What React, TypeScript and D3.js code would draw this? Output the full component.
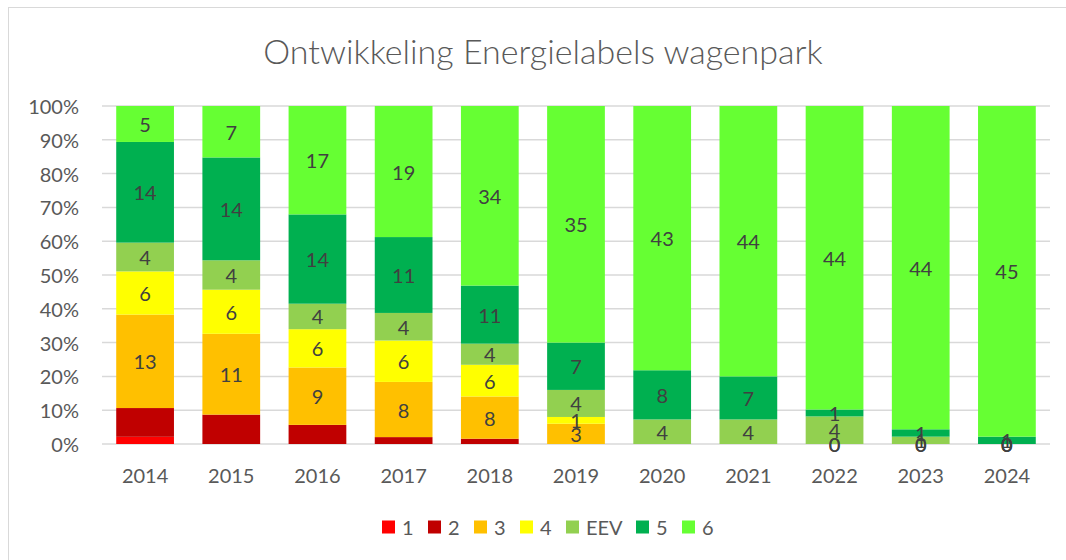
import React from "react";
import * as d3 from "d3";

const years = ["2014","2015","2016","2017","2018","2019","2020","2021","2022","2023","2024"];
const seriesNames = ["1","2","3","4","EEV","5","6"];
const seriesColors = ["#FF0000","#C00000","#FFC000","#FFFF00","#92D050","#00B050","#66FF33"];
const showLabels = [false,false,true,true,true,true,true];
const s1 = [1,0,0,0,0,0,0,0,0,0,0];
const s2 = [4,4,3,1,1,0,0,0,0,0,0];
const s3 = [13,11,9,8,8,3,null,null,0,0,0];
const s4 = [6,6,6,6,6,1,null,null,0,0,0];
const sEEV = [4,4,4,4,4,4,4,4,4,1,0];
const s5 = [14,14,14,11,11,7,8,7,1,1,1];
const s6 = [5,7,17,19,34,35,43,44,44,44,45];
const yTicks = [0,0.1,0.2,0.3,0.4,0.5,0.6,0.7,0.8,0.9,1];
const title = "Ontwikkeling Energielabels wagenpark";

const allSeries: (number|null)[][] = [s1,s2,s3,s4,sEEV,s5,s6];

const W = 1066, H = 560;
const FONT = "Lato, 'Open Sans', sans-serif";

export default function App() {
  const x = d3.scaleBand<string>().domain(years).range([102, 1050]).paddingInner(0.33).paddingOuter(0.165);
  const y = d3.scaleLinear().domain([0, 1]).range([444, 106]);

  const rows = years.map((yr, i) => {
    const r: any = { year: yr };
    seriesNames.forEach((n, j) => { r[n] = allSeries[j][i] ?? 0; });
    return r;
  });
  const stack = d3.stack<any>().keys(seriesNames).offset(d3.stackOffsetExpand);
  const stacked = stack(rows);

  // legend layout
  const charW = (t: string) => t === "EEV" ? 34 : 10 * t.length;
  const items = seriesNames.map(n => 20 + charW(n) + 16);
  const totalLegend = items.reduce((a, b) => a + b, 0) - 16;
  let lx = 545 - totalLegend / 2 + 2;
  const legendX: number[] = [];
  items.forEach(w => { legendX.push(lx); lx += w; });

  return (
    <svg width={W} height={H} style={{ position: "absolute", left: 0, top: 0, background: "#fff" }} fontFamily={FONT}>
      <rect x={8.5} y={7.5} width={W} height={H} fill="#fff" stroke="#d9d9d9" strokeWidth={1} />
      <text x={543} y={50} textAnchor="middle" dominantBaseline="central" fontSize={34} fontWeight={300} fill="#595959">{title}</text>
      {yTicks.map(t => (
        <g key={t}>
          <line x1={102} x2={1050} y1={y(t)} y2={y(t)} stroke="#d9d9d9" strokeWidth={1.5} />
          <text x={79} y={y(t)} textAnchor="end" dominantBaseline="central" fontSize={20} fill="#595959">{d3.format(".0%")(t)}</text>
        </g>
      ))}
      {stacked.map((layer, j) => (
        <g key={layer.key} fill={seriesColors[j]}>
          {layer.map((d, i) => (
            <rect key={i} x={x(years[i])} width={x.bandwidth()} y={y(d[1])} height={Math.max(0, y(d[0]) - y(d[1]))} />
          ))}
        </g>
      ))}
      {stacked.map((layer, j) => showLabels[j] ? (
        <g key={"l" + layer.key}>
          {layer.map((d, i) => {
            const v = allSeries[j][i];
            if (v === null || v === undefined) return null;
            return (
              <text key={i} x={x(years[i])! + x.bandwidth() / 2} y={y((d[0] + d[1]) / 2)} textAnchor="middle" dominantBaseline="central" fontSize={20} fill="#404040">{v}</text>
            );
          })}
        </g>
      ) : null)}
      {years.map(yr => (
        <text key={yr} x={x(yr)! + x.bandwidth() / 2} y={475} textAnchor="middle" dominantBaseline="central" fontSize={20} fill="#595959">{yr}</text>
      ))}
      {seriesNames.map((n, j) => (
        <g key={n} transform={`translate(${legendX[j]},527)`}>
          <rect x={0} y={-6.5} width={13} height={13} fill={seriesColors[j]} />
          <text x={20} y={0} dominantBaseline="central" fontSize={20} fill="#595959">{n}</text>
        </g>
      ))}
    </svg>
  );
}
